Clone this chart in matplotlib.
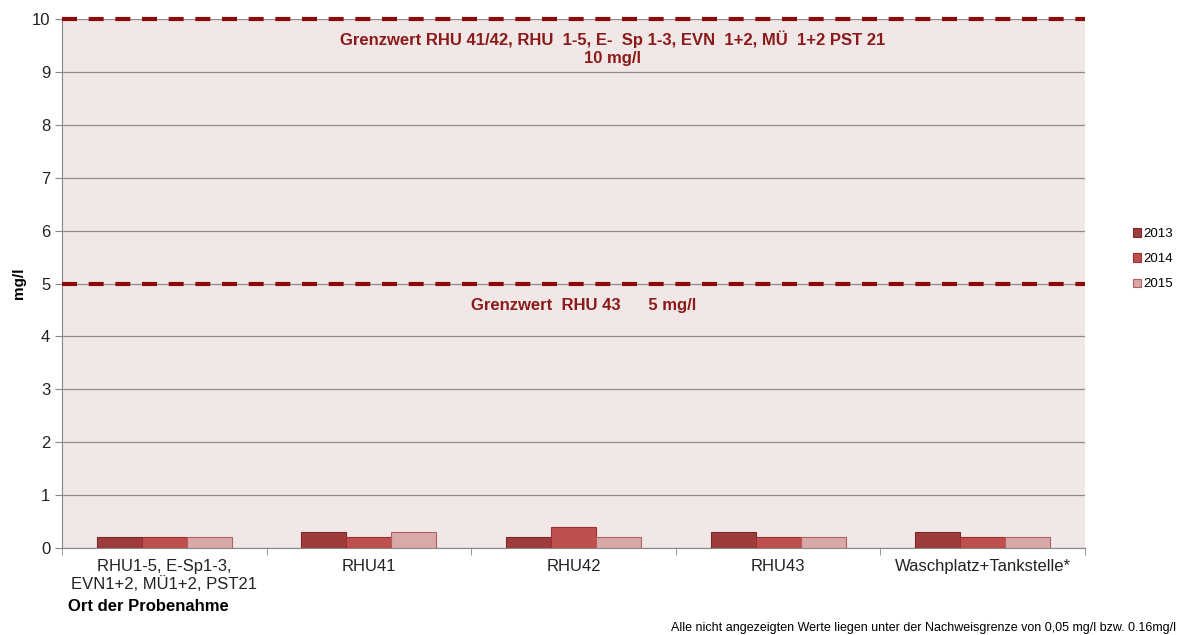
import numpy as np
import matplotlib.pyplot as plt

plt.rcParams['font.family'] = ['Liberation Sans', 'DejaVu Sans']

categories = ['RHU1-5, E-Sp1-3,\nEVN1+2, MÜ1+2, PST21', 'RHU41', 'RHU42', 'RHU43', 'Waschplatz+Tankstelle*']
years = ['2013', '2014', '2015']
v2013 = [0.2, 0.3, 0.2, 0.3, 0.3]
v2014 = [0.2, 0.2, 0.4, 0.2, 0.2]
v2015 = [0.2, 0.3, 0.2, 0.2, 0.2]
limit_high = 10
limit_low = 5

colors = ['#9E3C3C', '#C0504D', '#D9A8A8']
edges = ['#7A2A2A', '#9E3030', '#B06060']
red_text = '#8B1A1A'

fig = plt.figure(figsize=(11.78, 6.35), dpi=100)
ax = fig.add_axes([0.0526, 0.137, 0.8684, 0.833])
ax.set_facecolor('#F2E7E7')

X = np.arange(len(categories))
w = 0.22
for i, (vals, lab) in enumerate(zip([v2013, v2014, v2015], years)):
    ax.bar(X + (i - 1) * w, vals, width=w, color=colors[i], edgecolor=edges[i],
           linewidth=0.8, label=lab, zorder=3)

# Grenzwert lines
ax.axhline(limit_high, color='#8B0A0A', lw=3, ls=(0, (3.6, 2.8)), zorder=4, clip_on=False)
ax.axhline(limit_low, color='#8B0A0A', lw=3, ls=(0, (3.6, 2.8)), zorder=4)

ax.text(2.19, 9.78, 'Grenzwert RHU 41/42, RHU  1-5, E-  Sp 1-3, EVN  1+2, MÜ  1+2 PST 21\n10 mg/l',
        ha='center', va='top', color=red_text, fontsize=12, fontweight='bold', linespacing=1.25)
ax.text(2.05, 4.72, 'Grenzwert  RHU 43      5 mg/l', ha='center', va='top',
        color=red_text, fontsize=12, fontweight='bold')

ax.set_xlim(-0.5, len(categories) - 0.5)
ax.set_ylim(0, 10)
ax.set_yticks(range(0, 11))
ax.yaxis.grid(True, color='#8C8C8C', lw=0.9, zorder=1)
ax.set_xticks(X)
ax.set_xticklabels(categories, fontsize=12, color='#222222', linespacing=1.15)
ax.set_xticks(np.arange(-0.5, len(categories)), minor=True)
ax.tick_params(axis='x', which='major', length=0, pad=8)
ax.tick_params(axis='x', which='minor', length=5, color='#888888')
ax.tick_params(axis='y', length=5, color='#888888', labelsize=12, labelcolor='#222222')
for s in ['top', 'right']:
    ax.spines[s].set_visible(False)
for s in ['left', 'bottom']:
    ax.spines[s].set_color('#888888')
ax.set_ylabel('mg/l', fontsize=11, fontweight='bold', labelpad=4)

fig.text(0.0577, 0.045, 'Ort der Probenahme', fontsize=12, fontweight='bold', ha='left', va='center')
fig.text(0.998, 0.011, 'Alle nicht angezeigten Werte liegen unter der Nachweisgrenze von 0,05 mg/l bzw. 0.16mg/l',
         fontsize=9, ha='right', va='center')

ax.legend(loc='center left', bbox_to_anchor=(1.035, 0.546), frameon=False, fontsize=9.5,
          handlelength=0.6, handleheight=0.6, handletextpad=0.2, labelspacing=1.0)

fig.savefig('out.png', dpi=100)
